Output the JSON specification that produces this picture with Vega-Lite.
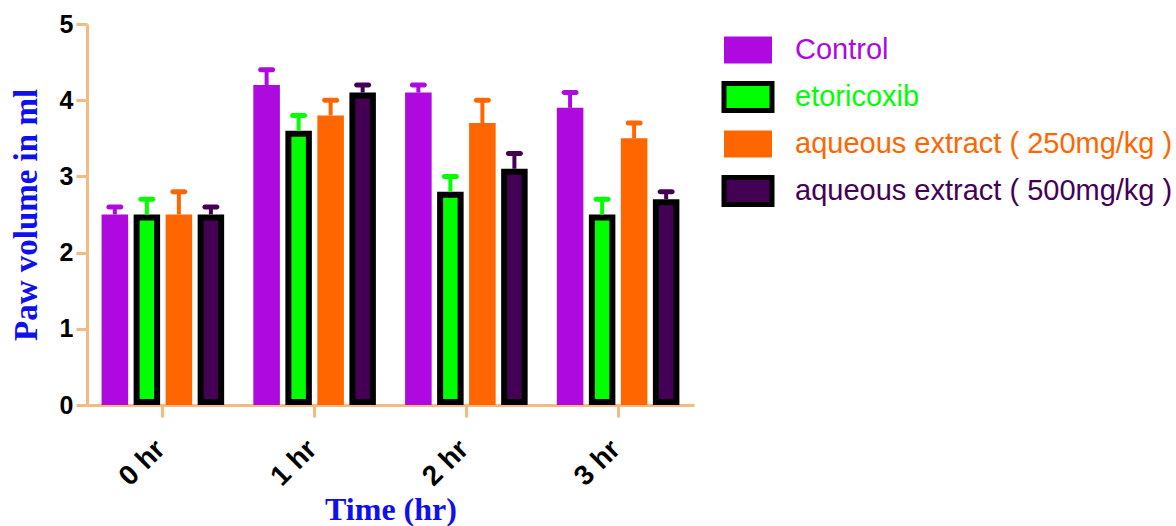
{
  "$schema": "https://vega.github.io/schema/vega-lite/v6.json",
  "width": 607,
  "height": 381,
  "autosize": {"type": "none"},
  "padding": {"left": 87, "top": 24, "right": 482, "bottom": 121},
  "background": "white",
  "config": {"view": {"stroke": null}},
  "data": {
    "values": [
      {"time": "0 hr", "group": "Control", "value": 2.5, "upper": 2.6},
      {"time": "0 hr", "group": "etoricoxib", "value": 2.5, "upper": 2.7},
      {"time": "0 hr", "group": "aqueous extract ( 250mg/kg )", "value": 2.5, "upper": 2.8},
      {"time": "0 hr", "group": "aqueous extract ( 500mg/kg )", "value": 2.5, "upper": 2.6},
      {"time": "1 hr", "group": "Control", "value": 4.2, "upper": 4.4},
      {"time": "1 hr", "group": "etoricoxib", "value": 3.6, "upper": 3.8},
      {"time": "1 hr", "group": "aqueous extract ( 250mg/kg )", "value": 3.8, "upper": 4.0},
      {"time": "1 hr", "group": "aqueous extract ( 500mg/kg )", "value": 4.1, "upper": 4.2},
      {"time": "2 hr", "group": "Control", "value": 4.1, "upper": 4.2},
      {"time": "2 hr", "group": "etoricoxib", "value": 2.8, "upper": 3.0},
      {"time": "2 hr", "group": "aqueous extract ( 250mg/kg )", "value": 3.7, "upper": 4.0},
      {"time": "2 hr", "group": "aqueous extract ( 500mg/kg )", "value": 3.1, "upper": 3.3},
      {"time": "3 hr", "group": "Control", "value": 3.9, "upper": 4.1},
      {"time": "3 hr", "group": "etoricoxib", "value": 2.5, "upper": 2.7},
      {"time": "3 hr", "group": "aqueous extract ( 250mg/kg )", "value": 3.5, "upper": 3.7},
      {"time": "3 hr", "group": "aqueous extract ( 500mg/kg )", "value": 2.7, "upper": 2.8}
    ]
  },
  "encoding": {
    "x": {
      "field": "time",
      "type": "nominal",
      "sort": ["0 hr", "1 hr", "2 hr", "3 hr"],
      "scale": {"paddingInner": 0, "paddingOuter": 0},
      "axis": {
        "title": "Time (hr)",
        "labelAngle": -45,
        "labelFont": "Liberation Sans",
        "labelFontWeight": "bold",
        "labelFontSize": 28,
        "labelColor": "black",
        "labelPadding": 18,
        "labelOffset": -12,
        "domainColor": "#F5BA80",
        "domainWidth": 3,
        "tickColor": "#F5BA80",
        "tickWidth": 3,
        "tickSize": 12,
        "titleFont": "Liberation Serif",
        "titleFontSize": 32,
        "titleFontWeight": "bold",
        "titleColor": "#1010EE",
        "titlePadding": 3
      }
    },
    "xOffset": {
      "field": "group",
      "type": "nominal",
      "sort": ["Control", "etoricoxib", "aqueous extract ( 250mg/kg )", "aqueous extract ( 500mg/kg )"],
      "scale": {"paddingInner": 0.17, "paddingOuter": 0.455}
    },
    "y": {
      "field": "value",
      "type": "quantitative",
      "scale": {"domain": [0, 5], "nice": false},
      "axis": {
        "values": [0, 1, 2, 3, 4, 5],
        "format": "d",
        "grid": false,
        "title": "Paw volume in ml",
        "labelFont": "Liberation Sans",
        "labelFontWeight": "bold",
        "labelFontSize": 25,
        "labelColor": "black",
        "labelPadding": 3,
        "domainColor": "#F5BA80",
        "domainWidth": 3,
        "tickColor": "#F5BA80",
        "tickWidth": 3,
        "tickSize": 11,
        "titleFont": "Liberation Serif",
        "titleFontSize": 33,
        "titleFontWeight": "bold",
        "titleColor": "#1010EE",
        "titlePadding": 16
      }
    }
  },
  "layer": [
    {
      "transform": [{"filter": "datum.group === 'Control' || datum.group === 'aqueous extract ( 250mg/kg )'"}],
      "mark": {"type": "bar", "strokeWidth": 0},
      "encoding": {
        "fill": {
          "field": "group",
          "type": "nominal",
          "scale": {
            "domain": ["Control", "etoricoxib", "aqueous extract ( 250mg/kg )", "aqueous extract ( 500mg/kg )"],
            "range": ["#AE0AE0", "#00FF00", "#FF6600", "#440055"]
          },
          "legend": {
            "title": null,
            "orient": "none",
            "legendX": 639.5,
            "legendY": 4.5,
            "symbolType": "M-1.263,-0.71H1.263V0.71H-1.263Z",
            "symbolSize": 1444,
            "symbolStrokeWidth": 5,
            "symbolOpacity": 1,
            "labelFont": "Liberation Sans",
            "labelFontSize": 29,
            "labelOffset": 25.5,
            "labelLimit": 500,
            "rowPadding": 0,
            "padding": 0,
            "encoding": {
              "labels": {
                "fill": {
                  "condition": [
                    {"test": "datum.value === 'Control'", "value": "#AE0AE0"},
                    {"test": "datum.value === 'etoricoxib'", "value": "#00FF00"},
                    {"test": "datum.value === 'aqueous extract ( 250mg/kg )'", "value": "#FF6600"}
                  ],
                  "value": "#440055"
                }
              }
            }
          }
        },
        "stroke": {
          "field": "group",
          "type": "nominal",
          "scale": {
            "domain": ["Control", "etoricoxib", "aqueous extract ( 250mg/kg )", "aqueous extract ( 500mg/kg )"],
            "range": ["transparent", "black", "transparent", "black"]
          },
          "legend": {
            "title": null,
            "orient": "none",
            "legendX": 639.5,
            "legendY": 4.5,
            "symbolType": "M-1.263,-0.71H1.263V0.71H-1.263Z",
            "symbolSize": 1444,
            "symbolStrokeWidth": 5,
            "symbolOpacity": 1,
            "labelFont": "Liberation Sans",
            "labelFontSize": 29,
            "labelOffset": 25.5,
            "labelLimit": 500,
            "rowPadding": 0,
            "padding": 0
          }
        }
      }
    },
    {
      "transform": [{"filter": "datum.group === 'etoricoxib' || datum.group === 'aqueous extract ( 500mg/kg )'"}],
      "mark": {"type": "bar", "strokeWidth": 6, "width": 20.5, "yOffset": 3, "y2Offset": -3},
      "encoding": {
        "y2": {"datum": 0},
        "fill": {"field": "group", "type": "nominal"},
        "stroke": {"field": "group", "type": "nominal"}
      }
    },
    {
      "mark": {"type": "rule", "strokeWidth": 4},
      "encoding": {
        "y2": {"field": "upper"},
        "color": {
          "field": "group",
          "type": "nominal",
          "scale": {
            "domain": ["Control", "etoricoxib", "aqueous extract ( 250mg/kg )", "aqueous extract ( 500mg/kg )"],
            "range": ["#AE0AE0", "#00FF00", "#FF6600", "#440055"]
          },
          "legend": null
        }
      }
    },
    {
      "mark": {"type": "tick", "thickness": 5, "size": 17, "cornerRadius": 2.5, "opacity": 1},
      "encoding": {
        "y": {"field": "upper", "type": "quantitative"},
        "color": {"field": "group", "type": "nominal", "legend": null}
      }
    }
  ]
}
